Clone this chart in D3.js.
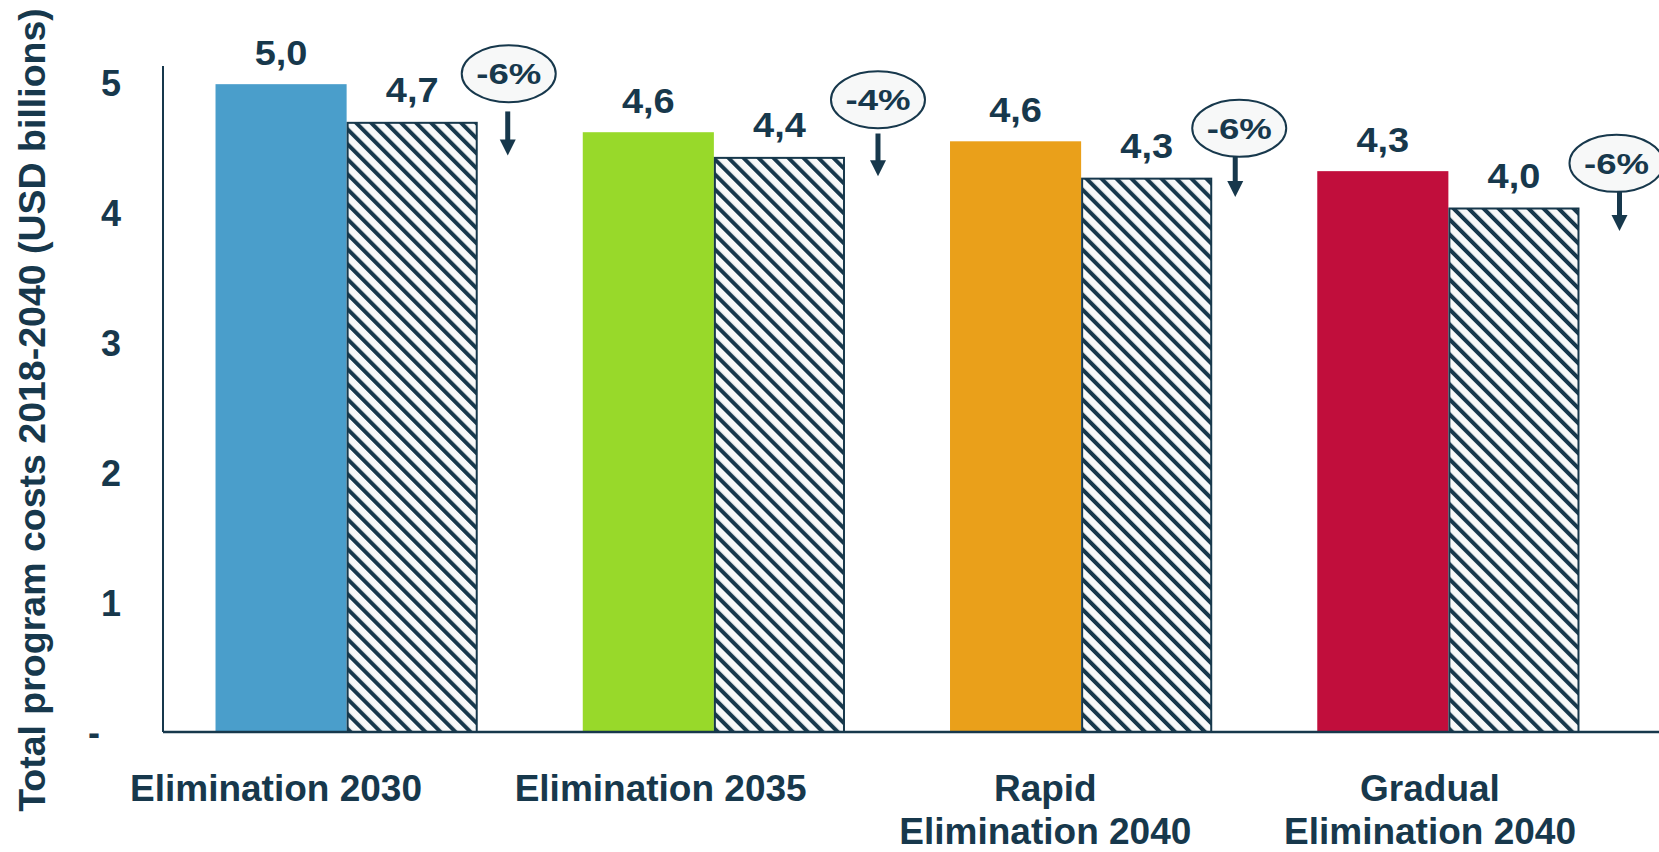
<!DOCTYPE html>
<html>
<head>
<meta charset="utf-8">
<script src="https://cdn.jsdelivr.net/npm/d3@7"></script>
<style>
  html, body { margin: 0; padding: 0; background: #ffffff; }
  svg { display: block; }
  text { font-family: "Liberation Sans", Arial, Helvetica, sans-serif; font-weight: bold; fill: #17384c; }
</style>
</head>
<body>
<svg id="chart" width="1659" height="852"></svg>
<script>
// ---------------- data ----------------
const categories = ["Elimination 2030", "Elimination 2035", "Rapid Elimination 2040", "Gradual Elimination 2040"];
const categoryLines = [["Elimination 2030"], ["Elimination 2035"], ["Rapid", "Elimination 2040"], ["Gradual", "Elimination 2040"]];
const baseValues = [4.99, 4.62, 4.55, 4.32];
const altValues = [4.70, 4.43, 4.27, 4.04];
const baseLabels = ["5,0", "4,6", "4,6", "4,3"];
const altLabels = ["4,7", "4,4", "4,3", "4,0"];
const changeLabels = ["-6%", "-4%", "-6%", "-6%"];
const calloutLevel = [5.07, 4.87, 4.65, 4.38];   // ellipse centre (data units)
const arrowFrom = [4.78, 4.61, 4.43, 4.16];
const arrowTo = [4.44, 4.28, 4.12, 3.86];
const yTicks = [0, 1, 2, 3, 4, 5];
const yTickLabels = ["-", "1", "2", "3", "4", "5"];
const barColors = ["#4a9ecb", "#98d92a", "#eaa01a", "#c10e3c"];
const yTitle = "Total program costs 2018-2040 (USD billions)";

// ---------------- layout ----------------
const W = 1659, H = 852;
const dark = "#17384c";
const plotLeft = 163, plotRight = 1632, baseY = 732, topY = 66;
const calloutDx = [31, 33, 27, 37];
const arrowDx = [30, 33, 23, 40];

const svg = d3.select("#chart");

const defs = svg.append("defs");
const pat = defs.append("pattern")
  .attr("id", "hatch")
  .attr("patternUnits", "userSpaceOnUse")
  .attr("width", 10.6).attr("height", 10.6)
  .attr("patternTransform", "rotate(-45)");
pat.append("rect").attr("width", 10.6).attr("height", 10.6).attr("fill", "#f8f9f9");
pat.append("rect").attr("x", 0).attr("y", 0).attr("width", 4).attr("height", 10.6).attr("fill", dark);

const y = d3.scaleLinear().domain([0, 5.13]).range([baseY, topY]);
const x = d3.scaleBand().domain(categories).range([plotLeft, plotRight]).paddingInner(0.286).paddingOuter(0.143);
const xs = d3.scaleBand().domain(["base", "alt"]).range([0, x.bandwidth()]).padding(0);
const xLabel = d3.scalePoint().domain(categories).range([276, 1430]);

// y axis
const yAxis = d3.axisLeft(y).tickValues(yTicks).tickSize(0).tickPadding(0)
  .tickFormat((d, i) => yTickLabels[i]);
const gy = svg.append("g").attr("transform", `translate(121,0)`).call(yAxis);
gy.select(".domain").remove();
gy.selectAll("text")
  .attr("font-size", 36)
  .attr("font-family", '"Liberation Sans", Arial, sans-serif')
  .attr("font-weight", "bold")
  .attr("fill", dark)
  .attr("dx", d => d === 0 ? -21 : 0)
  .attr("dy", "0.36em");

// axis lines
svg.append("line").attr("x1", plotLeft).attr("x2", plotLeft).attr("y1", y(5.13)).attr("y2", baseY)
  .attr("stroke", dark).attr("stroke-width", 2);

// y title
svg.append("text")
  .attr("transform", `translate(45,410) rotate(-90)`)
  .attr("text-anchor", "middle")
  .attr("font-size", 37.5)
  .text(yTitle);

const groups = svg.selectAll(".grp").data(categories).join("g")
  .attr("class", "grp")
  .attr("transform", d => `translate(${x(d)},0)`);

// base bars
groups.append("rect")
  .attr("x", xs("base"))
  .attr("width", xs.bandwidth())
  .attr("y", (d, i) => y(baseValues[i]))
  .attr("height", (d, i) => baseY - y(baseValues[i]))
  .attr("fill", (d, i) => barColors[i]);

// hatched bars
groups.append("rect")
  .attr("x", xs("alt") + 1)
  .attr("width", xs.bandwidth() - 2)
  .attr("y", (d, i) => y(altValues[i]) + 1)
  .attr("height", (d, i) => baseY - y(altValues[i]) - 1)
  .attr("fill", "url(#hatch)")
  .attr("stroke", dark).attr("stroke-width", 2);

// value labels (slightly widened face)
groups.append("text")
  .attr("transform", (d, i) => `translate(${xs("base") + xs.bandwidth() / 2},${y(baseValues[i]) - 19.5}) scale(1.1,1)`)
  .attr("text-anchor", "middle").attr("font-size", 34.5)
  .text((d, i) => baseLabels[i]);
groups.append("text")
  .attr("transform", (d, i) => `translate(${xs("alt") + xs.bandwidth() / 2},${y(altValues[i]) - 19.5}) scale(1.1,1)`)
  .attr("text-anchor", "middle").attr("font-size", 34.5)
  .text((d, i) => altLabels[i]);

// x axis baseline
svg.append("line").attr("x1", plotLeft).attr("x2", W).attr("y1", baseY).attr("y2", baseY)
  .attr("stroke", dark).attr("stroke-width", 2.5);

// category labels
const cat = svg.selectAll(".cat").data(categories).join("text")
  .attr("class", "cat")
  .attr("text-anchor", "middle")
  .attr("font-size", 37)
  .attr("y", 801);
cat.each(function (d, i) {
  const t = d3.select(this);
  categoryLines[i].forEach((ln, k) => {
    t.append("tspan").attr("x", xLabel(d)).attr("dy", k === 0 ? 0 : 43).text(ln);
  });
});

// callouts
const co = svg.selectAll(".callout").data(categories).join("g").attr("class", "callout");
co.each(function (d, i) {
  const g = d3.select(this);
  const right = x(d) + xs("alt") + xs.bandwidth();
  const cx = right + calloutDx[i];
  const cy = y(calloutLevel[i]);
  const ax = right + arrowDx[i];
  const y0 = y(arrowFrom[i]), y1 = y(arrowTo[i]);
  g.append("line").attr("x1", ax).attr("x2", ax).attr("y1", y0).attr("y2", y1 - 14)
    .attr("stroke", dark).attr("stroke-width", 5);
  g.append("path")
    .attr("d", `M${ax - 8},${y1 - 16} L${ax + 8},${y1 - 16} L${ax},${y1} Z`)
    .attr("fill", dark);
  g.append("ellipse").attr("cx", cx).attr("cy", cy).attr("rx", 47).attr("ry", 28.5)
    .attr("fill", "#f7f8f8").attr("stroke", dark).attr("stroke-width", 2);
  g.append("text")
    .attr("transform", `translate(${cx},${cy + 10.5}) scale(1.22,1)`)
    .attr("text-anchor", "middle").attr("font-size", 30)
    .text(changeLabels[i]);
});
</script>
</body>
</html>
